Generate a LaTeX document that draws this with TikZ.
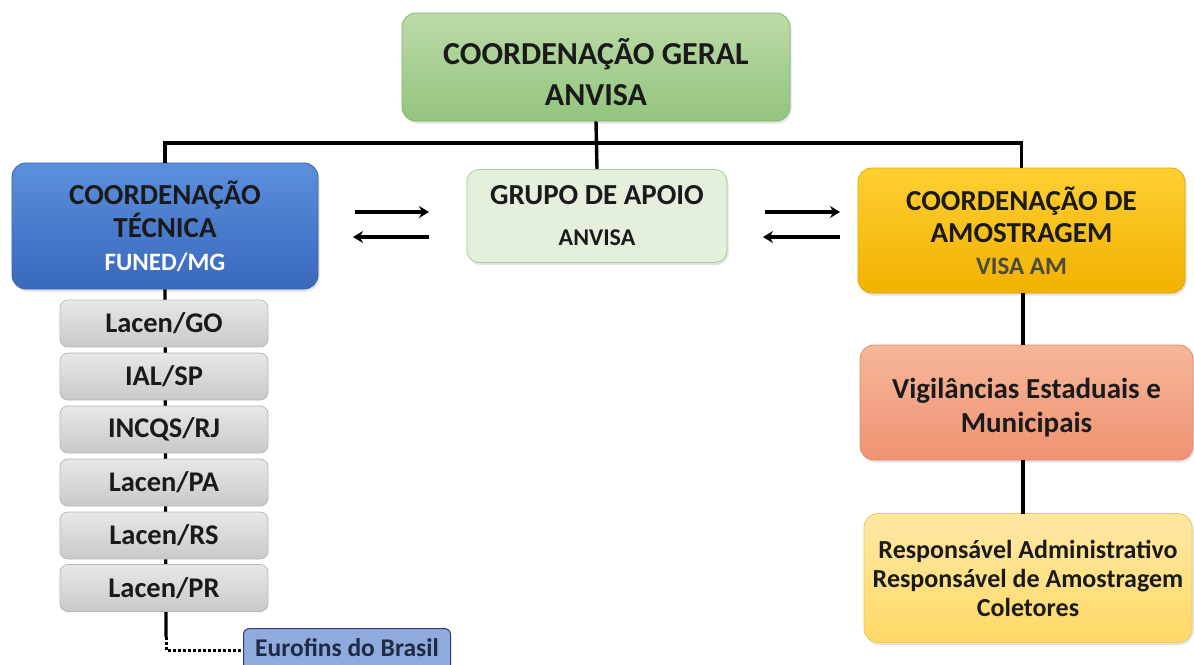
\documentclass[tikz,border=0pt]{standalone}
\usepackage{fontspec}
\setmainfont{Carlito}
\usetikzlibrary{arrows.meta,shadows}
\definecolor{txt}{HTML}{1A1A1A}
\definecolor{gtop}{HTML}{BCDBA8}\definecolor{gbot}{HTML}{93C47D}\definecolor{gbord}{HTML}{82B56C}
\definecolor{btop}{HTML}{5B8FDC}\definecolor{bbot}{HTML}{3A68BC}\definecolor{bbord}{HTML}{3560AD}
\definecolor{lgfill}{HTML}{E4F0DB}\definecolor{lgbord}{HTML}{A9CF93}
\definecolor{ytop}{HTML}{FFCF33}\definecolor{ybot}{HTML}{F2B100}\definecolor{ybord}{HTML}{E0A800}
\definecolor{stop}{HTML}{F6B799}\definecolor{sbot}{HTML}{EF9272}\definecolor{sbord}{HTML}{E38B6D}
\definecolor{rtop}{HTML}{FFE8A6}\definecolor{rbot}{HTML}{FFD965}\definecolor{rbord}{HTML}{F0C850}
\definecolor{ktop}{HTML}{E8E8E8}\definecolor{kbot}{HTML}{C9C9C9}\definecolor{kbord}{HTML}{B8B8B8}
\definecolor{efill}{HTML}{8FAADC}\definecolor{ebord}{HTML}{2E3F63}\definecolor{etxt}{HTML}{1F2A44}
\definecolor{visa}{HTML}{4A4A3A}
\tikzset{
  box/.style={rectangle, rounded corners=14pt, align=center, font=\bfseries, text=txt, line width=0.8pt,
    drop shadow={opacity=0.22, shadow xshift=1.5pt, shadow yshift=-2.5pt}},
  labbox/.style={rectangle, rounded corners=8pt, align=center, font=\bfseries\fontsize{28.5}{30}\selectfont,
    text=txt, draw=kbord, top color=ktop, bottom color=kbot, minimum width=208pt, minimum height=47pt, line width=0.8pt},
  conn/.style={line width=3.4pt, draw=black},
  arr/.style={line width=3.6pt, -{Stealth[length=10pt,width=12pt]}},
}
\begin{document}
\begin{tikzpicture}[x=1pt,y=-1pt]
\useasboundingbox (0,0) rectangle (1194,664);
\fill[white] (0,0) rectangle (1194,664);
\begin{scope}
\clip (0,0) rectangle (1194,664);
\coordinate (jn) at (597,143);
\coordinate (lend) at (166,637);
\coordinate (lcorner) at (166,650);

\node[box, draw=gbord, top color=gtop, bottom color=gbot, minimum width=388pt, minimum height=108pt,
  font=\bfseries\fontsize{32}{41}\selectfont] (top) at (596,67) {\rule{0pt}{36pt}COORDENAÇÃO GERAL\\ANVISA};
\node[box, draw=bbord, top color=btop, bottom color=bbot, minimum width=306pt, minimum height=126pt,
  font=\bfseries\fontsize{29}{33}\selectfont] (tech) at (165,226)
  {COORDENAÇÃO\\TÉCNICA\\{\color{white}\fontsize{25}{36}\selectfont FUNED/MG}};
\node[box, draw=lgbord, fill=lgfill, minimum width=260pt, minimum height=93pt, rounded corners=12pt,
  font=\bfseries\fontsize{29}{41}\selectfont] (grupo) at (597,216)
  {GRUPO DE APOIO\\{\fontsize{24}{41}\selectfont ANVISA}};
\node[box, draw=ybord, top color=ytop, bottom color=ybot, minimum width=327pt, minimum height=125pt,
  font=\bfseries\fontsize{29}{32}\selectfont] (amost) at (1021.5,230.5)
  {COORDENAÇÃO DE\\AMOSTRAGEM\\{\color{visa}\fontsize{25}{32}\selectfont VISA AM}};
\node[box, draw=sbord, top color=stop, bottom color=sbot, minimum width=333pt, minimum height=115pt,
  font=\bfseries\fontsize{29}{34}\selectfont] (vig) at (1026.5,402.5)
  {\rule{0pt}{31pt}Vigilâncias Estaduais e\\Municipais};
\node[box, draw=rbord, top color=rtop, bottom color=rbot, minimum width=328pt, minimum height=129pt,
  font=\bfseries\fontsize{26}{29}\selectfont] (resp) at (1028,578)
  {Responsável Administrativo\\Responsável de Amostragem\\Coletores};

% lab column line behind boxes
\draw[line width=3.2pt] (tech.south) -- (lend);
\draw[line width=3pt, dotted] (lend) -- (lcorner) -- ++(75,0) coordinate (eend);

\node[labbox] (l1) at (164,323.5) {Lacen/GO};
\node[labbox] (l2) at (164,376.5) {IAL/SP};
\node[labbox] (l3) at (164,429.5) {INCQS/RJ};
\node[labbox] (l4) at (164,482.5) {Lacen/PA};
\node[labbox] (l5) at (164,535.5) {Lacen/RS};
\node[labbox] (l6) at (164,588) {Lacen/PR};

\node[rectangle, rounded corners=6pt, draw=ebord, fill=efill, line width=1pt, minimum width=207pt, minimum height=46pt,
  anchor=north west] (euro) at (243,628) {};
\node[text=etxt, font=\bfseries\fontsize{25.5}{28}\selectfont] (eurotxt) at (347,648) {Eurofins do Brasil};

% org lines
\draw[conn] (top.south) -- (grupo.north);
\draw[conn] (tech.north) |- (jn) -| (amost.north);
\draw[conn] (1023,293) -- (1023,345);
\draw[conn] (1023,460) -- (1023,514);

% arrows
\coordinate (a1) at (355,212); \coordinate (a2) at (429,212);
\coordinate (a3) at (429,237); \coordinate (a4) at (353,237);
\coordinate (b1) at (765,212); \coordinate (b2) at (840,212);
\coordinate (b3) at (840,237); \coordinate (b4) at (763,237);
\draw[arr] (a1) -- (a2);
\draw[arr] (a3) -- (a4);
\draw[arr] (b1) -- (b2);
\draw[arr] (b3) -- (b4);
\end{scope}
\end{tikzpicture}
\end{document}
